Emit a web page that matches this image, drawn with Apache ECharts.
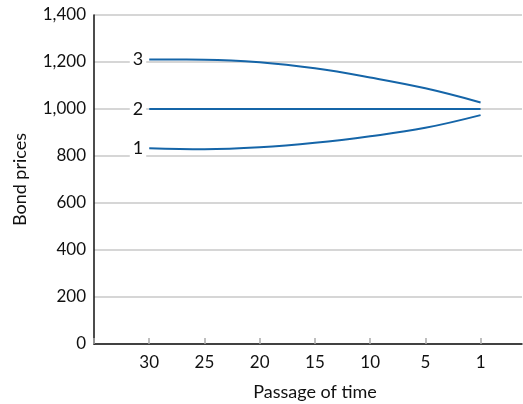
<!DOCTYPE html>
<html>
<head>
<meta charset="utf-8">
<script src="https://cdn.jsdelivr.net/npm/echarts@6/dist/echarts.min.js"></script>
<style>
html,body{margin:0;padding:0;background:#fff;}
#chart{width:523px;height:404px;}
</style>
</head>
<body>
<div id="chart"></div>
<script>
// Data
var xLabels = ['30', '25', '20', '15', '10', '5', '1'];
var seriesNames = ['3', '2', '1'];
var premiumBond = [1211, 1210, 1199, 1173, 1134, 1088, 1028];
var parBond = [1000, 1000, 1000, 1000, 1000, 1000, 1000];
var discountBond = [833, 829, 837, 856, 884, 920, 974];
var yTicks = [0, 200, 400, 600, 800, 1000, 1200, 1400];

var FONT = 'Lato';
var LINE = '#1565a8';

function buildData(values, name) {
  return values.map(function (v, i) {
    var item = { value: [i + 1, v] };
    if (i === 0) {
      item.label = {
        show: true,
        position: 'left',
        distance: 3,
        formatter: name,
        fontFamily: FONT,
        fontSize: 18,
        color: '#111',
        backgroundColor: '#fff',
        padding: [0, 3, 0, 3]
      };
    }
    return item;
  });
}

function lineSeries(values, name, smooth) {
  return {
    type: 'line',
    name: name,
    data: buildData(values, name),
    smooth: smooth,
    symbol: 'circle',
    symbolSize: 0.01,
    showSymbol: true,
    itemStyle: { color: LINE },
    lineStyle: { color: LINE, width: 2 },
    label: { show: false },
    z: 3
  };
}

var chart = echarts.init(document.getElementById('chart'));
chart.setOption({
  animation: false,
  backgroundColor: '#fff',
  grid: { left: 94, right: 1, top: 15, bottom: 60, containLabel: false, outerBoundsMode: 'none' },
  xAxis: {
    type: 'value',
    min: 0,
    max: 7.75,
    interval: 1,
    name: 'Passage of time',
    nameLocation: 'middle',
    nameGap: 39,
    nameTextStyle: { fontFamily: FONT, fontSize: 18, color: '#111', padding: [0, 0, 0, 14] },
    axisLine: { show: true, lineStyle: { color: '#111', width: 1.5 } },
    axisTick: { show: true, inside: true, length: 6, lineStyle: { color: '#aaa', width: 1.5 } },
    axisLabel: {
      fontFamily: FONT, fontSize: 17, color: '#111', margin: 10,
      showMaxLabel: false,
      formatter: function (v) {
        var i = Math.round(v) - 1;
        return (i >= 0 && i < xLabels.length && Math.abs(v - Math.round(v)) < 1e-6) ? xLabels[i] : '';
      }
    },
    splitLine: { show: false }
  },
  yAxis: {
    type: 'value',
    min: yTicks[0],
    max: yTicks[yTicks.length - 1],
    interval: 200,
    name: 'Bond prices',
    nameLocation: 'middle',
    nameGap: 65,
    nameRotate: 90,
    nameTextStyle: { fontFamily: FONT, fontSize: 18, color: '#111' },
    axisLine: { show: true, lineStyle: { color: '#111', width: 1.5 } },
    axisTick: { show: false },
    axisLabel: {
      fontFamily: FONT, fontSize: 17, color: '#111', margin: 8,
      formatter: function (v) { return v.toString().replace(/\B(?=(\d{3})+(?!\d))/g, ','); }
    },
    splitLine: { show: true, lineStyle: { color: '#c8c8c8', width: 1.5 } }
  },
  series: [
    lineSeries(premiumBond, seriesNames[0], 0.4),
    lineSeries(parBond, seriesNames[1], false),
    lineSeries(discountBond, seriesNames[2], 0.4)
  ]
});
</script>
</body>
</html>
